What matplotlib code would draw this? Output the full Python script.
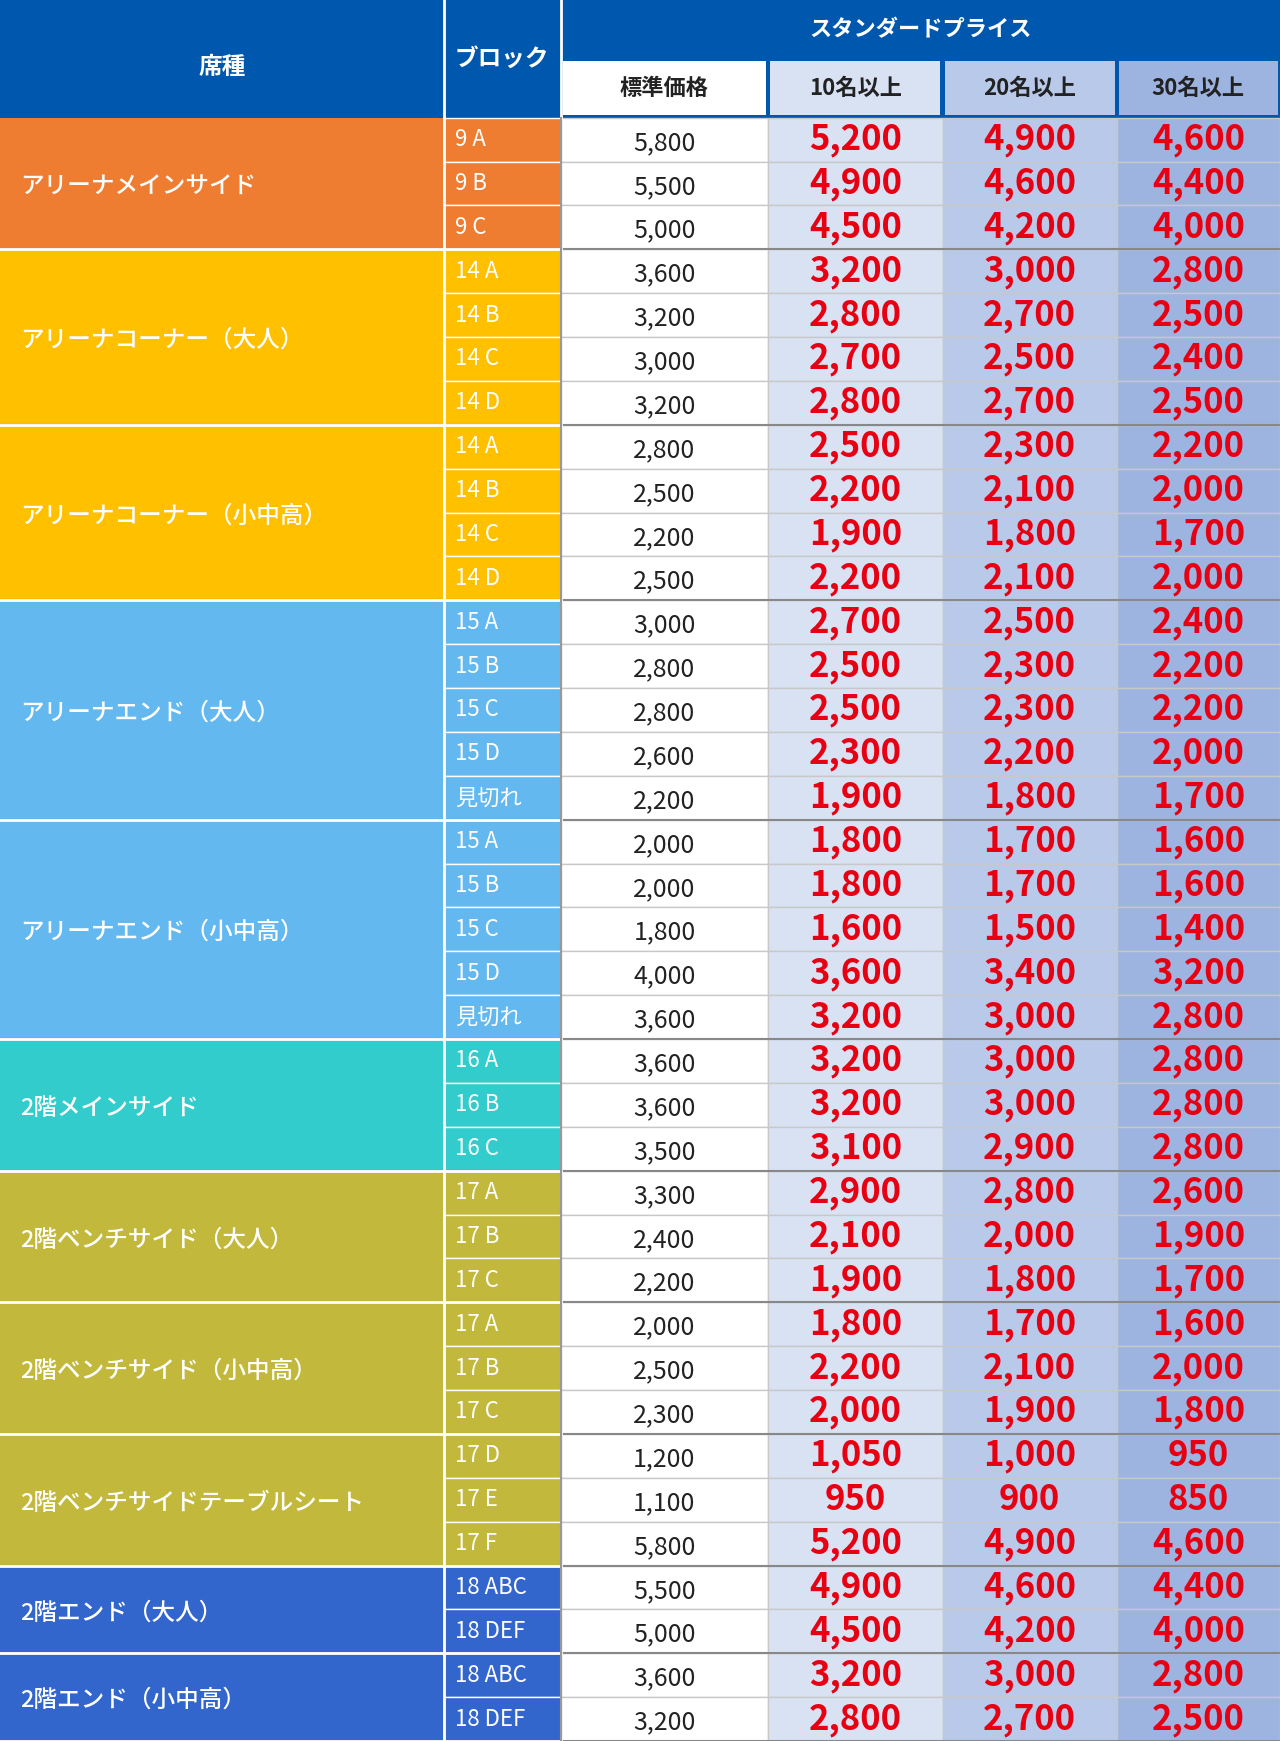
import matplotlib
matplotlib.use("Agg")
import matplotlib.pyplot as plt
from matplotlib.patches import Rectangle

FONT = "Noto Sans CJK JP"
seat_names = ["アリーナメインサイド","アリーナコーナー（大人）","アリーナコーナー（小中高）","アリーナエンド（大人）",
              "アリーナエンド（小中高）","2階メインサイド","2階ベンチサイド（大人）","2階ベンチサイド（小中高）",
              "2階ベンチサイドテーブルシート","2階エンド（大人）","2階エンド（小中高）"]
seat_colors = ["#EE7D32","#FFC000","#FFC000","#63B8F0","#63B8F0","#33CCCC","#C2B83C","#C2B83C","#C2B83C","#3366CC","#3366CC"]
blocks = [["9 A","9 B","9 C"],["14 A","14 B","14 C","14 D"],["14 A","14 B","14 C","14 D"],
          ["15 A","15 B","15 C","15 D","見切れ"],["15 A","15 B","15 C","15 D","見切れ"],
          ["16 A","16 B","16 C"],["17 A","17 B","17 C"],["17 A","17 B","17 C"],["17 D","17 E","17 F"],
          ["18 ABC","18 DEF"],["18 ABC","18 DEF"]]
standard = [5800,5500,5000,3600,3200,3000,3200,2800,2500,2200,2500,3000,2800,2800,2600,2200,
            2000,2000,1800,4000,3600,3600,3600,3500,3300,2400,2200,2000,2500,2300,1200,1100,5800,5500,5000,3600,3200]
p10 = [5200,4900,4500,3200,2800,2700,2800,2500,2200,1900,2200,2700,2500,2500,2300,1900,
       1800,1800,1600,3600,3200,3200,3200,3100,2900,2100,1900,1800,2200,2000,1050,950,5200,4900,4500,3200,2800]
p20 = [4900,4600,4200,3000,2700,2500,2700,2300,2100,1800,2100,2500,2300,2300,2200,1800,
       1700,1700,1500,3400,3000,3000,3000,2900,2800,2000,1800,1700,2100,1900,1000,900,4900,4600,4200,3000,2700]
p30 = [4600,4400,4000,2800,2500,2400,2500,2200,2000,1700,2000,2400,2200,2200,2000,1700,
       1600,1600,1400,3200,2800,2800,2800,2800,2600,1900,1700,1600,2000,1800,950,850,4600,4400,4000,2800,2500]
header_top = "スタンダードプライス"
header_cols = ["標準価格","10名以上","20名以上","30名以上"]

W, H = 1153, 1568
xs = [0,400,505,692,849,1006,1153]
price_bg = ["#FFFFFF","#D9E2F3","#B9C9EA","#9DB3E0"]
HB = "#0058AE"
fig = plt.figure(figsize=(12.8,17.41), dpi=100)
ax = fig.add_axes([0,0,1,1]); ax.set_xlim(0,W); ax.set_ylim(H,0); ax.axis("off")
def rect(x0,y0,x1,y1,fc,ec="none",lw=0):
    ax.add_patch(Rectangle((x0,y0),x1-x0,y1-y0,fc=fc,ec=ec,lw=lw))
rect(0,0,W,106,HB)
ax.text(200,60,"席種",color="white",fontsize=17,fontweight="bold",ha="center",va="center",family=FONT)
ax.text(452,53,"ブロック",color="white",fontsize=17,fontweight="bold",ha="center",va="center",family=FONT)
ax.text(829,27,header_top,color="white",fontsize=16,fontweight="bold",ha="center",va="center",family=FONT)
for i,t in enumerate(header_cols):
    rect(xs[2+i]+2,55,xs[3+i]-2,104,price_bg[i])
    ax.text((xs[2+i]+xs[3+i])/2,80,t,color="#222",fontsize=16,fontweight="bold",ha="center",va="center",family=FONT)
ax.plot([400,400],[0,106],color="white",lw=2); ax.plot([505,505],[0,106],color="white",lw=2)
y0 = 106; rh = (H-106)/37; r = 0
for g,name in enumerate(seat_names):
    n = len(blocks[g]); ya, yb = y0+r*rh, y0+(r+n)*rh
    rect(0,ya,400,yb,seat_colors[g])
    ax.text(18,(ya+yb)/2+3,name,color="white",fontsize=17,fontweight="medium",ha="left",va="center",family=FONT)
    for k in range(n):
        i = r+k; yt = y0+i*rh; yc = yt+rh/2
        rect(400,yt,505,yt+rh,seat_colors[g],ec="white",lw=1)
        ax.text(410,yc,blocks[g][k],color="white",fontsize=16,ha="left",va="center",family=FONT)
        for c in range(4):
            rect(xs[2+c],yt,xs[3+c],yt+rh,price_bg[c],ec="#C8C8C8",lw=1)
        xc = [(xs[j]+xs[j+1])/2 for j in range(2,6)]
        ax.text(xc[0],yc+3,f"{standard[i]:,}",color="#222",fontsize=18,ha="center",va="center",family=FONT)
        for c,arr in enumerate([p10,p20,p30]):
            ax.text(xc[c+1],yc,f"{arr[i]:,}",color="#E60012",fontsize=25,fontweight="bold",ha="center",va="center",family=FONT)
    ax.plot([0,W],[yb,yb],color="#888",lw=1.5)
    ax.plot([0,505],[yb,yb],color="white",lw=2)
    r += n
ax.plot([400,400],[106,H],color="white",lw=2)
ax.plot([505,505],[106,H],color="#999",lw=1.5)
fig.savefig("out.png",dpi=100)
